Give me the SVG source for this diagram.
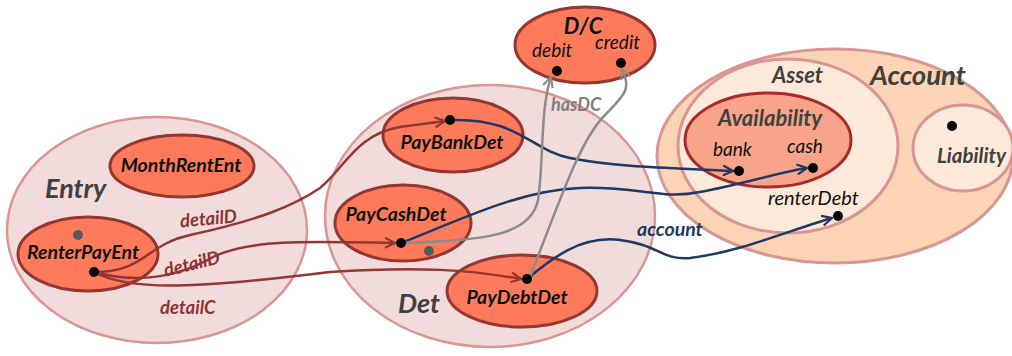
<svg xmlns="http://www.w3.org/2000/svg" width="1012" height="356" viewBox="0 0 1012 356">
<defs>
<style>
.grp{fill:#f2dcdb;stroke:#d99694;stroke-width:2.5}
.node{fill:#fd7b5a;stroke:#943634;stroke-width:3}
.acc{fill:#fbd5b5;stroke:#d99694;stroke-width:3}
.ast{fill:#fde9d9;stroke:#d99694;stroke-width:3}
.avl{fill:#f7a48a;stroke:#a82a2a;stroke-width:3}
text{font-family:Lato,"Open Sans",sans-serif;font-style:italic}
.nl{font-weight:bold;font-size:19.5px;fill:#111}
.gl{font-weight:bold;font-size:27px;fill:#404040}
.sl{font-size:19px;fill:#111}
.rl{font-weight:bold;font-size:18.5px;fill:#8b3535}
.bl{font-weight:bold;font-size:19.5px;fill:#1f3864}
.hl{font-weight:bold;font-size:18px;fill:#7f7f7f}
.dot{fill:#000}
.gdot{fill:#595959}
.r{fill:none;stroke:#943634;stroke-width:2.5}
.b{fill:none;stroke:#1f3864;stroke-width:2.5}
.g{fill:none;stroke:#8c8c8c;stroke-width:2.5}
</style>
<marker id="ar" viewBox="0 0 12 12" refX="11" refY="6" markerWidth="12" markerHeight="12" markerUnits="userSpaceOnUse" orient="auto"><path d="M1,1 L11,6 L1,11" fill="none" stroke="#943634" stroke-width="2.2"/></marker>
<marker id="ab" viewBox="0 0 12 12" refX="11" refY="6" markerWidth="12" markerHeight="12" markerUnits="userSpaceOnUse" orient="auto"><path d="M1,1 L11,6 L1,11" fill="none" stroke="#1f3864" stroke-width="2.2"/></marker>
<marker id="ag" viewBox="0 0 12 12" refX="11" refY="6" markerWidth="12" markerHeight="12" markerUnits="userSpaceOnUse" orient="auto"><path d="M1,1 L11,6 L1,11" fill="none" stroke="#8c8c8c" stroke-width="2.2"/></marker>
</defs>

<g id="Entry">
<ellipse class="grp" cx="157" cy="230" rx="150" ry="113"/>
<text class="gl" x="45" y="198">Entry</text>
</g>
<g id="Det">
<ellipse class="grp" cx="490" cy="216" rx="165" ry="131"/>
<text class="gl" x="398" y="313">Det</text>
</g>
<g id="Account">
<ellipse class="acc" cx="835" cy="156" rx="178" ry="107"/>
<text class="gl" x="870" y="85" style="font-size:27.5px">Account</text>
</g>
<g id="Asset">
<ellipse class="ast" cx="788" cy="146" rx="110" ry="87"/>
<text class="gl" x="772" y="83" style="font-size:22px">Asset</text>
<text class="sl" x="768" y="205" style="font-size:20px">renterDebt</text>
<circle class="dot" cx="838" cy="216" r="5"/>
</g>
<g id="Availability">
<ellipse class="avl" cx="768" cy="140" rx="83" ry="47"/>
<text class="gl" x="718" y="126" style="font-size:22px">Availability</text>
<text class="sl" x="713" y="156">bank</text>
<text class="sl" x="787" y="153">cash</text>
<circle class="dot" cx="739" cy="171" r="5"/>
<circle class="dot" cx="813" cy="168" r="5"/>
</g>
<g id="Liability">
<ellipse class="ast" cx="963" cy="148" rx="50" ry="43"/>
<text class="gl" x="937" y="163" style="font-size:20.5px">Liability</text>
<circle class="dot" cx="952" cy="126" r="5"/>
</g>
<g id="MonthRentEnt">
<ellipse class="node" cx="182" cy="166" rx="72" ry="31"/>
<text class="nl" x="181" y="172" text-anchor="middle">MonthRentEnt</text>
</g>
<g id="RenterPayEnt">
<ellipse class="node" cx="88" cy="254" rx="70" ry="37"/>
<text class="nl" x="83" y="259" text-anchor="middle">RenterPayEnt</text>
<circle class="gdot" cx="78" cy="235" r="5"/>
</g>
<g id="PayBankDet">
<ellipse class="node" cx="453" cy="135" rx="70" ry="37"/>
<text class="nl" x="452" y="149" text-anchor="middle">PayBankDet</text>
</g>
<g id="PayCashDet">
<ellipse class="node" cx="403" cy="223" rx="68" ry="38"/>
<text class="nl" x="396" y="221" text-anchor="middle">PayCashDet</text>
<circle class="gdot" cx="429" cy="251" r="5"/>
</g>
<g id="PayDebtDet">
<ellipse class="node" cx="522" cy="291" rx="75" ry="36"/>
<text class="nl" x="517" y="304" text-anchor="middle">PayDebtDet</text>
</g>
<g id="DC">
<ellipse class="node" cx="585" cy="45" rx="70" ry="38"/>
<text class="nl" x="583" y="34" text-anchor="middle" style="font-size:22px">D/C</text>
<text class="sl" x="532" y="57">debit</text>
<text class="sl" x="595" y="49">credit</text>
</g>

<g id="connectors">
<path class="r" marker-end="url(#ar)" d="M94,272 C145,272 145,245 190,235 C260,220 295,205 320,188 C345,168 355,135 400,127 L445,121"/>
<path class="r" marker-end="url(#ar)" d="M94,272 C130,282 170,282 215,256 C250,240 300,241 395,243"/>
<path class="r" marker-end="url(#ar)" d="M94,272 C130,292 200,288 330,272 C420,266 470,270 521,279"/>
<path class="b" marker-end="url(#ab)" d="M450,120 C520,118 530,150 570,158 C620,168 680,168 733,171"/>
<path class="b" marker-end="url(#ab)" d="M401,243 C460,220 520,190 580,188 C640,186 660,200 700,192 C740,185 780,172 807,168"/>
<path class="b" marker-end="url(#ab)" d="M527,279 C550,260 580,235 620,240 C660,245 660,260 690,258 C740,252 790,230 832,218"/>
<path class="g" marker-end="url(#ag)" d="M401,243 C470,240 530,240 538,200 C544,160 540,110 551,77"/>
<path class="g" marker-end="url(#ag)" d="M530,277 C560,200 580,140 605,115 C628,92 630,88 622,69"/>
<text class="rl" x="180" y="225" transform="rotate(-5 208 220)">detailD</text>
<text class="rl" x="163" y="270" transform="rotate(-14 192 263)">detailD</text>
<text class="rl" x="160" y="314">detailC</text>
<text class="bl" x="637" y="236">account</text>
<text class="hl" x="551" y="111">hasDC</text>
<circle class="dot" cx="94" cy="272" r="5"/>
<circle class="dot" cx="450" cy="120" r="5"/>
<circle class="dot" cx="401" cy="243" r="5"/>
<circle class="dot" cx="527" cy="279" r="5"/>
<circle class="dot" cx="557" cy="71" r="5"/>
<circle class="dot" cx="621" cy="63" r="5"/>
</g>
</svg>
